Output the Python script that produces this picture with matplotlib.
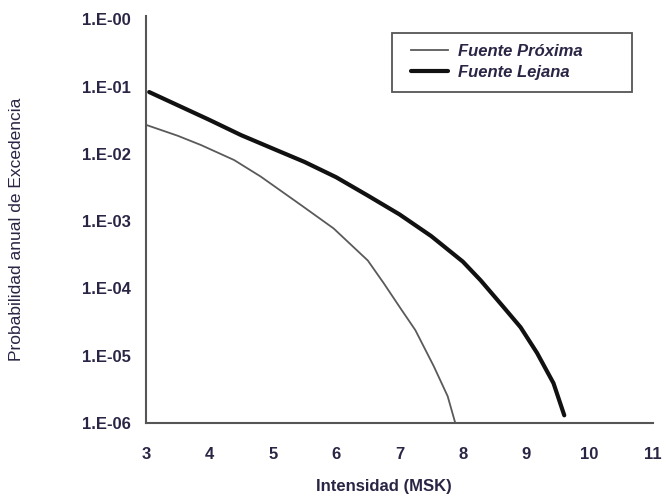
import matplotlib
matplotlib.use("Agg")
import matplotlib.pyplot as plt
from matplotlib.patches import Rectangle
from matplotlib.ticker import FixedLocator, NullLocator

# ---- data ----
prox_x = [3.0, 3.5, 3.87, 4.39, 4.81, 5.44, 5.96, 6.5, 6.75, 7.02, 7.25, 7.54, 7.76, 7.88]
prox_y = [2.7e-2, 1.86e-2, 1.35e-2, 8.1e-3, 4.6e-3, 1.75e-3, 7.8e-4, 2.6e-4,
          1.2e-4, 5.0e-5, 2.4e-5, 7.0e-6, 2.5e-6, 1.0e-6]

lej_x = [3.05, 4.0, 4.5, 5.0, 5.5, 6.0, 6.5, 7.0, 7.5, 8.0, 8.28, 8.64, 8.91,
         9.17, 9.43, 9.6]
lej_y = [8.3e-2, 3.2e-2, 1.9e-2, 1.2e-2, 7.6e-3, 4.5e-3, 2.4e-3, 1.26e-3,
         6.0e-4, 2.5e-4, 1.32e-4, 5.3e-5, 2.65e-5, 1.1e-5, 3.9e-6, 1.3e-6]

x_ticks = [3, 4, 5, 6, 7, 8, 9, 10, 11]
y_ticks = [1e0, 1e-1, 1e-2, 1e-3, 1e-4, 1e-5, 1e-6]
y_tick_labels = ["1.E-00", "1.E-01", "1.E-02", "1.E-03", "1.E-04", "1.E-05", "1.E-06"]

series_labels = ["Fuente Próxima", "Fuente Lejana"]
x_label = "Intensidad (MSK)"
y_label = "Probabilidad anual de Excedencia"

# ---- style ----
plt.rcParams['font.family'] = ['Liberation Sans', 'DejaVu Sans']
txt_color = '#2b2545'
axis_color = '#555555'
W, H = 666, 500

fig = plt.figure(figsize=(6.66, 5.0), dpi=100)
ax = fig.add_axes([146/W, 1 - 423/H, (653 - 146)/W, (423 - 16)/H])

ax.plot(prox_x, prox_y, color='#5a5a5a', lw=1.3, label=series_labels[0],
        solid_joinstyle='round')
ax.plot(lej_x, lej_y, color='#111111', lw=3.0, label=series_labels[1],
        solid_capstyle='round', solid_joinstyle='round')

ax.set_yscale('log')
ax.set_xlim(3, 11)
ax.set_ylim(1e-6, 1.12)

ax.yaxis.set_major_locator(FixedLocator(y_ticks))
ax.yaxis.set_minor_locator(NullLocator())
ax.set_yticks(y_ticks)
ax.set_yticklabels(y_tick_labels)
ax.set_xticks(x_ticks)
ax.set_xticklabels([str(v) for v in x_ticks])

for s in ['top', 'right']:
    ax.spines[s].set_visible(False)
for s in ['left', 'bottom']:
    ax.spines[s].set_color(axis_color)
    ax.spines[s].set_linewidth(1.5)

ax.tick_params(axis='y', length=0, pad=11, labelsize=12, labelcolor=txt_color)
ax.tick_params(axis='x', length=0, pad=17, labelsize=12, labelcolor=txt_color)
for lab in ax.get_xticklabels() + ax.get_yticklabels():
    lab.set_fontweight('bold')

fig.text(384/W, 1 - 487/H, x_label, fontsize=12, fontweight='bold',
         color=txt_color, ha='center', va='center')
fig.text(17/W, 1 - 229/H, y_label, fontsize=12.5, color=txt_color,
         rotation=90, ha='center', va='center')

# legend frame
frame = Rectangle((392/W, 1 - 92/H), (632 - 392)/W, (92 - 33)/H,
                  transform=fig.transFigure, fill=True, clip_on=False,
                  facecolor='white', edgecolor=axis_color,
                  linewidth=1.3, zorder=5)
ax.add_patch(frame)
leg = ax.legend(loc='upper left',
                bbox_to_anchor=(411/W, 1 - 44/H),
                bbox_transform=fig.transFigure,
                frameon=False, handlelength=2.2, handletextpad=0.6,
                borderpad=0, labelspacing=0.35, borderaxespad=0,
                prop={'size': 12, 'weight': 'bold', 'style': 'italic'})
leg.set_zorder(6)
for t in leg.get_texts():
    t.set_color(txt_color)

fig.savefig("out.png", dpi=100, facecolor='white')
